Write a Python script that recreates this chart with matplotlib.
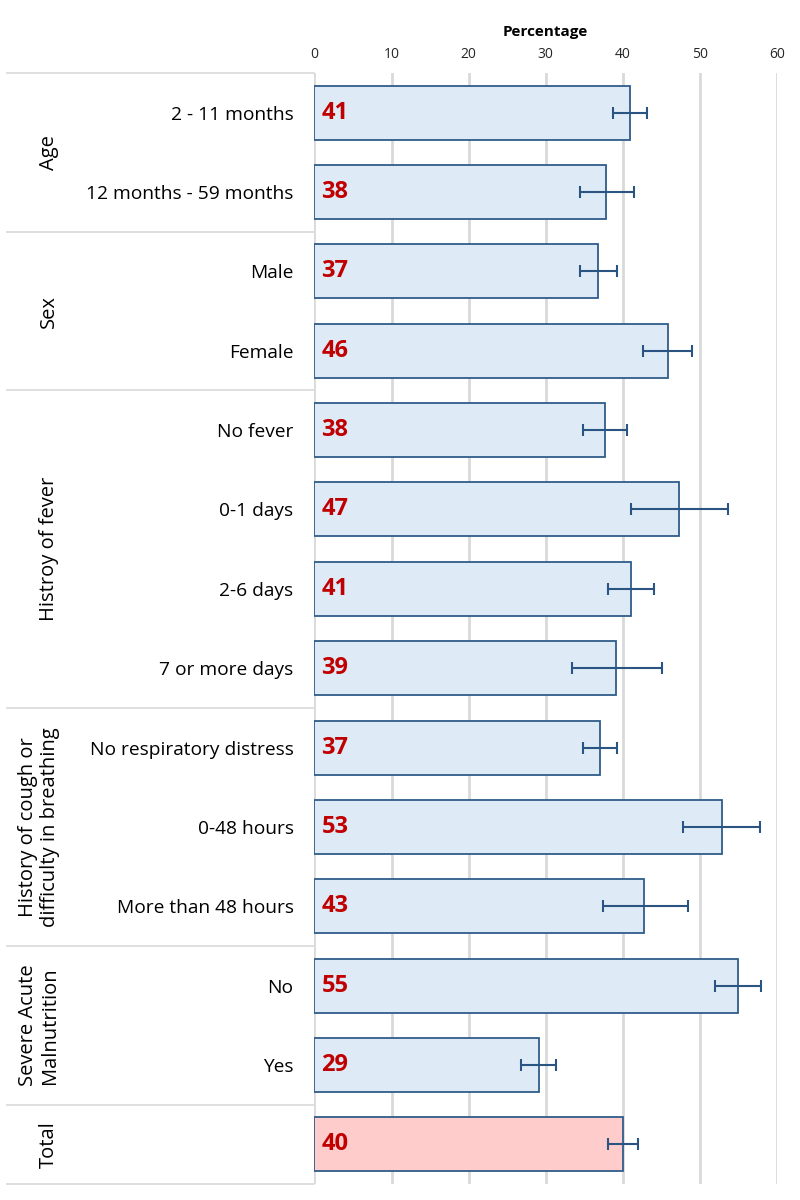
import matplotlib
matplotlib.use("Agg")
import matplotlib.pyplot as plt
import matplotlib.transforms as mtransforms
import numpy as np

plt.rcParams["font.family"] = ["Open Sans", "DejaVu Sans"]

# data
categories = [
    "2 - 11 months", "12 months - 59 months",
    "Male", "Female",
    "No fever", "0-1 days", "2-6 days", "7 or more days",
    "No respiratory distress", "0-48 hours", "More than 48 hours",
    "No", "Yes",
    "",
]
values = [40.9, 37.8, 36.8, 45.8, 37.7, 47.3, 41.1, 39.1, 37.0, 52.9, 42.8, 55.0, 29.1, 40.0]
ci_low = [38.7, 34.4, 34.5, 42.6, 34.8, 41.0, 38.1, 33.4, 34.9, 47.8, 37.4, 52.0, 26.8, 38.1]
ci_high = [43.1, 41.4, 39.2, 49.0, 40.6, 53.6, 44.0, 45.1, 39.2, 57.8, 48.4, 57.9, 31.4, 42.0]
group_names = ["Age", "Sex", "Histroy of fever",
               "History of cough or\ndifficulty in breathing",
               "Severe Acute\nMalnutrition", "Total"]
group_sizes = [2, 2, 4, 3, 2, 1]
xticks = [0, 10, 20, 30, 40, 50, 60]

fig = plt.figure(figsize=(8, 12), dpi=100)
ax = fig.add_axes([314.4 / 800, 1 - 1184 / 1200, (777 - 314.4) / 800, (1184 - 73) / 1200])

y = np.arange(len(categories))
colors = ["#DEEAF6"] * (len(values) - 1) + ["#FFCCCC"]
ax.barh(y, values, height=0.68, color=colors, edgecolor="#2F5D8A", linewidth=1.3, zorder=3)

vals = np.array(values)
xerr = np.array([vals - np.array(ci_low), np.array(ci_high) - vals])
ax.errorbar(values, y, xerr=xerr, fmt="none", ecolor="#2A5582", elinewidth=1.5,
            capsize=4, capthick=1.5, zorder=4)

for yi, v in zip(y, values):
    ax.text(0.9, yi, "%d" % round(v), color="#C00000", fontsize=17, fontweight="bold",
            ha="left", va="center", zorder=5)

ax.set_xlim(0, 60)
ax.set_ylim(len(categories) - 0.5, -0.5)
ax.set_xticks(xticks)
ax.xaxis.tick_top()
ax.xaxis.set_label_position("top")
ax.set_xlabel("Percentage", fontsize=11, fontweight="bold", labelpad=8)
ax.tick_params(axis="x", length=0, labelsize=10, colors="#262626", pad=8)
ax.grid(axis="x", color="#D9D9D9", linewidth=2, zorder=0)
ax.set_yticks(y)
ax.set_yticklabels(categories, fontsize=13.8)
ax.tick_params(axis="y", length=0, pad=15)
for s in ax.spines.values():
    s.set_visible(False)

# group labels and separator lines on the left
trans = mtransforms.blended_transform_factory(ax.transAxes, ax.transData)
x_line0 = (7 - 314.4) / (777 - 314.4)
start = 0
ax.plot([x_line0, 0], [-0.5, -0.5], transform=trans, color="#D9D9D9", lw=1.2, clip_on=False)
for name, n in zip(group_names, group_sizes):
    end = start + n
    center = (start + end - 1) / 2
    px = 39 if "\n" in name else 49
    x_txt = (px - 314.4) / (777 - 314.4)
    ax.text(x_txt, center, name, transform=trans, rotation=90, ha="center", va="center",
            fontsize=14.5, multialignment="center", linespacing=1.1)
    ax.plot([x_line0, 0], [end - 0.5, end - 0.5], transform=trans, color="#D9D9D9",
            lw=1.2, clip_on=False)
    start = end

fig.savefig("out.png", dpi=100)
